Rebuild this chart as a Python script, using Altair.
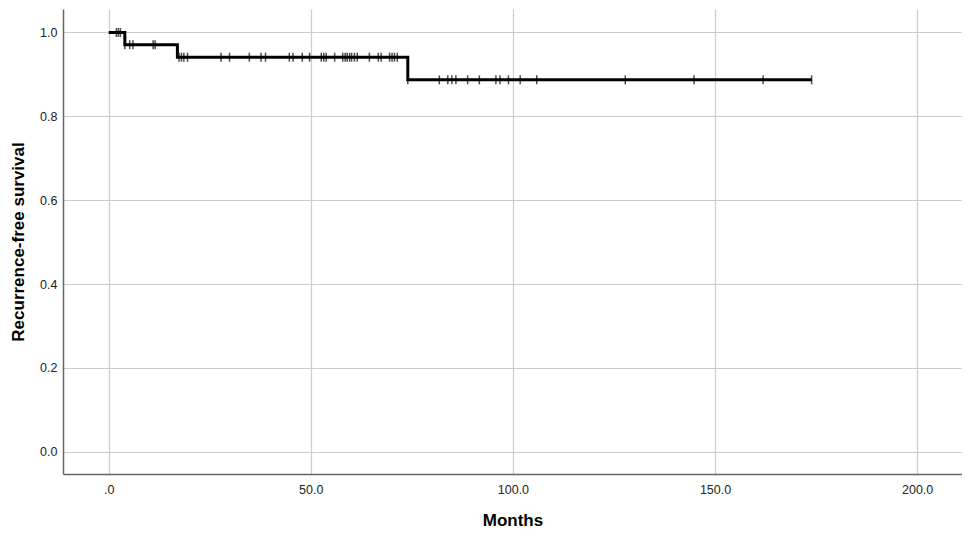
import altair as alt
import pandas as pd

# Kaplan-Meier step function (months, survival)
step_times = [0.0, 4.0, 17.0, 74.0, 173.9]
step_surv = [1.0, 0.971, 0.941, 0.887, 0.887]

# Censored observations (months)
censor_times = [
    1.9, 2.4, 2.9,
    4.0, 5.2, 6.0, 11.0, 11.5,
    17.4, 18.0, 18.6, 19.5, 27.8, 29.9, 34.8, 37.7, 38.8, 44.7, 45.6, 47.9,
    49.7, 52.6, 53.2, 53.8, 55.9, 57.9, 58.5, 59.0, 59.6, 60.1, 60.8, 61.5,
    64.5, 66.7, 67.4, 69.5, 70.1, 70.7, 71.4,
    74.0, 81.8, 83.9, 84.9, 85.9, 88.8, 91.7, 95.8, 96.8, 98.9, 101.8, 105.9,
    127.8, 144.8, 161.9, 173.9,
]

x_ticks = [0, 50, 100, 150, 200]
y_ticks = [0.0, 0.2, 0.4, 0.6, 0.8, 1.0]


def surv_at(t):
    s = step_surv[0]
    for st, sv in zip(step_times, step_surv):
        if t >= st:
            s = sv
    return s


steps = pd.DataFrame({"t": step_times, "s": step_surv})
cens = pd.DataFrame({"t": censor_times, "s": [surv_at(t) for t in censor_times]})

xscale = alt.Scale(domain=[-11.3, 211.1], nice=False, zero=False)
yscale = alt.Scale(domain=[-0.053, 1.056], nice=False, zero=False)

xaxis = alt.Axis(
    values=x_ticks,
    labelExpr="datum.value == 0 ? '.0' : format(datum.value, '.1f')",
    title="Months",
    titleFontSize=17,
    titleFontWeight="bold",
    titleColor="#000000",
    titlePadding=17,
    labelPadding=9,
    tickSize=0,
    labelFontSize=12.5,
    labelColor="#222222",
    grid=True,
)
yaxis = alt.Axis(
    values=y_ticks,
    format=".1f",
    title="Recurrence-free survival",
    titleFontSize=17,
    titleFontWeight="bold",
    titleColor="#000000",
    titlePadding=12,
    labelPadding=6,
    tickSize=0,
    labelFontSize=12.5,
    labelColor="#222222",
    grid=True,
)

line = alt.Chart(steps).mark_line(
    interpolate="step-after", color="black", strokeWidth=3
).encode(
    x=alt.X("t:Q", scale=xscale, axis=xaxis),
    y=alt.Y("s:Q", scale=yscale, axis=yaxis),
)

ticks = alt.Chart(cens).mark_tick(
    orient="vertical", color="black", size=9, thickness=1.5
).encode(
    x=alt.X("t:Q", scale=xscale),
    y=alt.Y("s:Q", scale=yscale),
)

chart = (
    alt.layer(line, ticks)
    .properties(
        width=899,
        height=465,
        autosize=alt.AutoSizeParams(type="none"),
        padding={"left": 55, "top": 1, "right": 0, "bottom": 56},
    )
    .configure(font="Liberation Sans")
    .configure_view(stroke=None)
    .configure_axis(
        gridColor="#cccccc",
        gridWidth=1.2,
        domainColor="#666666",
        domainWidth=1.5,
    )
)

chart.save("out.html", embed_options={"renderer": "svg", "actions": False})
